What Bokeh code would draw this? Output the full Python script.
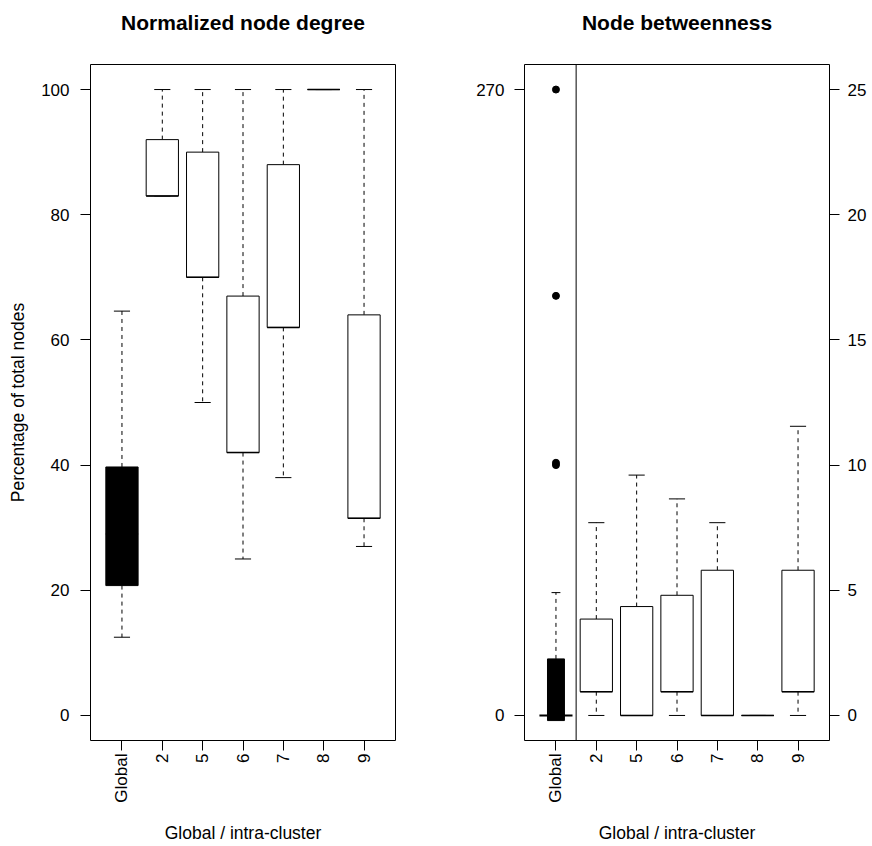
import math
import numpy as np
from bokeh.plotting import figure
from bokeh.models import Range1d, LinearAxis, FixedTicker, Span, CustomJSTickFormatter, Title
from bokeh.layouts import row
from bokeh.embed import file_html
from bokeh.resources import INLINE

# ---------------- data ----------------
categories = ["Global", "2", "5", "6", "7", "8", "9"]
positions = [1, 2, 3, 4, 5, 6, 7]

# Normalized node degree (percentage of total nodes)
deg_low = [12.5, 83, 50, 25, 38, 100, 27]
deg_q1 = [20.75, 83, 70, 42, 62, 100, 31.5]
deg_med = [29, 83, 70, 42, 62, 100, 31.5]
deg_q3 = [39.7, 92, 90, 67, 88, 100, 64]
deg_high = [64.6, 100, 100, 100, 100, 100, 100]

# Node betweenness, global (left axis, 0..270)
glob_low = [0]
glob_q1 = [-2.2]
glob_med = [0]
glob_q3 = [24.4]
glob_high = [53]
glob_outliers = [270, 181, 109, 108]

# Node betweenness, intra-cluster (right axis, 0..25)
cl_low = [0, 0, 0, 0, 0, 0]
cl_q1 = [0.95, 0, 0.95, 0, 0, 0.95]
cl_med = [0.95, 0, 0.95, 0, 0, 0.95]
cl_q3 = [3.85, 4.35, 4.8, 5.8, 0, 5.8]
cl_high = [7.7, 9.6, 8.65, 7.7, 0, 11.55]

deg_ticks = [0, 20, 40, 60, 80, 100]
btw_left_ticks = [0, 270]
btw_right_ticks = [0, 5, 10, 15, 20, 25]

FONT = "Liberation Sans"
H = 846


def style(p, title):
    # spacer (closest to the frame), then the real title above it
    p.add_layout(Title(text=" ", text_font=FONT, text_font_size="10px", standoff=16), "above")
    p.add_layout(Title(text=title, align="center", vertical_align="bottom", text_font=FONT,
                       text_font_size="21px", text_font_style="bold", text_color="black",
                       standoff=4), "above")
    p.xgrid.visible = False
    p.ygrid.visible = False
    p.outline_line_color = "black"
    p.outline_line_width = 1
    p.outline_line_alpha = 1
    p.background_fill_color = "white"
    p.border_fill_color = "white"
    fmt = CustomJSTickFormatter(args=dict(labels=categories),
                                code="var i = Math.round(tick) - 1; return (i >= 0 && i < labels.length) ? labels[i] : '';")
    xa = p.xaxis[0]
    xa.ticker = FixedTicker(ticks=positions)
    xa.formatter = fmt
    xa.axis_label = "Global / intra-cluster"
    for ax in p.axis:
        ax.axis_line_color = None
        ax.major_tick_out = 10
        ax.major_tick_in = 0
        ax.minor_tick_out = 0
        ax.minor_tick_in = 0
        ax.major_tick_line_color = "black"
        ax.major_label_text_font = FONT
        ax.major_label_text_font_size = "17px"
        ax.major_label_text_color = "black"
        ax.axis_label_text_font = FONT
        ax.axis_label_text_font_size = "17.5px"
        ax.axis_label_text_font_style = "normal"
        ax.axis_label_text_color = "black"
    xa.major_label_orientation = math.pi / 2
    xa.major_label_standoff = 3
    xa.axis_label_standoff = 17


def boxes(p, pos, low, q1, med, q3, high, fill, width=0.8, cap=0.4, y_range_name="default"):
    x = np.array(pos, dtype=float)
    kw = dict(y_range_name=y_range_name)
    # whiskers
    p.segment(x0=x, y0=np.array(q3), x1=x, y1=np.array(high), line_color="black",
              line_width=1, line_dash="4 4", **kw)
    p.segment(x0=x, y0=np.array(q1), x1=x, y1=np.array(low), line_color="black",
              line_width=1, line_dash="4 4", **kw)
    # caps
    p.segment(x0=x - cap / 2, y0=np.array(high), x1=x + cap / 2, y1=np.array(high),
              line_color="black", line_width=1, **kw)
    p.segment(x0=x - cap / 2, y0=np.array(low), x1=x + cap / 2, y1=np.array(low),
              line_color="black", line_width=1, **kw)
    # boxes
    p.vbar(x=x, width=width, bottom=np.array(q1), top=np.array(q3), fill_color=fill,
           line_color="black", line_width=1, **kw)
    # medians
    p.segment(x0=x - width / 2, y0=np.array(med), x1=x + width / 2, y1=np.array(med),
              line_color="black", line_width=1.5, **kw)


# ---------------- left: normalized node degree ----------------
p1 = figure(width=440, height=H, x_range=Range1d(0.22, 7.78), y_range=Range1d(-4, 104),
            output_backend="svg", toolbar_location=None, title_location=None,
            min_border_left=90, min_border_right=45, min_border_top=64, min_border_bottom=106)
style(p1, "Normalized node degree")
p1.yaxis[0].ticker = FixedTicker(ticks=deg_ticks)
p1.yaxis[0].major_label_standoff = 11
p1.yaxis[0].axis_label = "Percentage of total nodes"
p1.yaxis[0].axis_label_standoff = 10

boxes(p1, positions[:1], deg_low[:1], deg_q1[:1], deg_med[:1], deg_q3[:1], deg_high[:1], "black")
boxes(p1, positions[1:], deg_low[1:], deg_q1[1:], deg_med[1:], deg_q3[1:], deg_high[1:], "white")

# ---------------- right: node betweenness ----------------
p2 = figure(width=432, height=H, x_range=Range1d(0.22, 7.78), y_range=Range1d(-10.8, 280.8),
            output_backend="svg", toolbar_location=None, title_location=None,
            min_border_left=84, min_border_right=43, min_border_top=64, min_border_bottom=106)
p2.extra_y_ranges = {"cl": Range1d(-1, 26)}
right_axis = LinearAxis(y_range_name="cl", ticker=FixedTicker(ticks=btw_right_ticks))
p2.add_layout(right_axis, "right")
style(p2, "Node betweenness")
p2.yaxis[0].ticker = FixedTicker(ticks=btw_left_ticks)
p2.yaxis[0].major_label_standoff = 10
right_axis.major_label_standoff = 8

# global (left scale)
gx = np.array(positions[:1], dtype=float)
p2.segment(x0=gx, y0=np.array(glob_q3), x1=gx, y1=np.array(glob_high), line_color="black",
           line_width=1, line_dash="4 4")
p2.segment(x0=gx - 0.11, y0=np.array(glob_high), x1=gx + 0.11, y1=np.array(glob_high),
           line_color="black", line_width=1)
p2.vbar(x=gx, width=0.42, bottom=np.array(glob_q1), top=np.array(glob_q3), fill_color="black",
        line_color="black", line_width=1)
p2.segment(x0=gx - 0.41, y0=np.array(glob_med), x1=gx + 0.41, y1=np.array(glob_med),
           line_color="black", line_width=2)
p2.scatter(x=np.full(len(glob_outliers), positions[0], dtype=float), y=glob_outliers,
           size=7, fill_color="black", line_color="black")

# clusters (right scale)
boxes(p2, positions[1:], cl_low, cl_q1, cl_med, cl_q3, cl_high, "white", y_range_name="cl")

p2.add_layout(Span(location=1.5, dimension="height", line_color="black", line_width=1))

layout = row(p1, p2)
open("out.html", "w").write(file_html(layout, INLINE))
